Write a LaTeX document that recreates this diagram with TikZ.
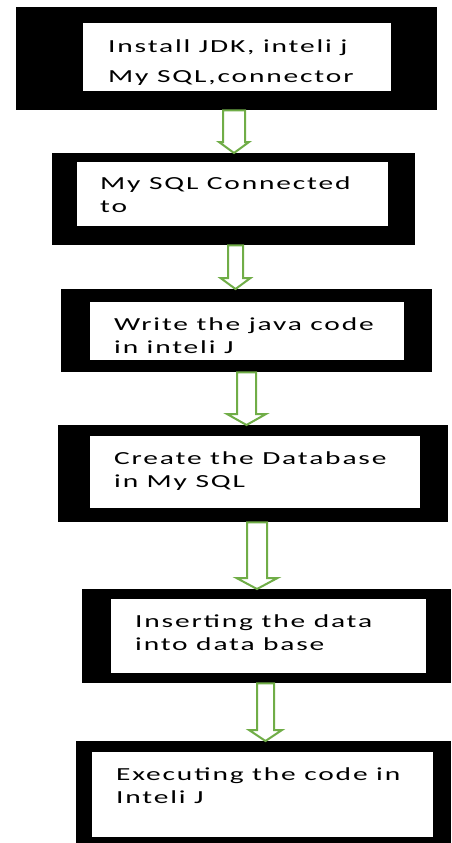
\documentclass[tikz,border=0pt]{standalone}
\usepackage{fontspec}
\newfontfamily\boxfont[FakeStretch=1.6,LetterSpace=10]{Carlito}
\usetikzlibrary{calc}
\definecolor{arrowgreen}{RGB}{112,173,71}

\tikzset{
  outerbox/.style={fill=black, inner sep=0pt, anchor=north west},
  innerbox/.style={fill=white, inner sep=0pt, anchor=north west},
  steptext/.style={anchor=base west, align=left, inner sep=0pt,
    font=\boxfont\fontsize{18.4}{22.5}\selectfont},
  flowarrow/.style={draw=arrowgreen, line width=2pt, fill=white, line join=miter},
}

% hollow block arrow: from, to, x coordinate, shaft half width, head half width
\newcommand{\blockarrow}[5]{%
  \draw[flowarrow] let \p1=(#1.south -| #3), \p2=(#2.north -| #3) in
    (\x1-#4,\y1) -- (\x1-#4,\y2+11pt) -- (\x1-#5,\y2+11pt) -- (\x2,\y2)
    -- (\x1+#5,\y2+11pt) -- (\x1+#4,\y2+11pt) -- (\x1+#4,\y1) -- cycle;
}

\begin{document}
\begin{tikzpicture}[x=1pt, y=-1pt]
  \fill[white] (0,0) rectangle (451,843);
  \useasboundingbox (0,0) rectangle (451,843);

  % text nodes are placed at the baseline of their last line
  \node[outerbox, minimum width=421pt, minimum height=103pt] (b1) at (16,7) {};
  \node[innerbox, minimum width=308pt, minimum height=68pt] (i1) at (83,23) {};
  \node[steptext] (t1) at (108,82) {Install JDK, inteli j\\[7.5pt]My SQL,connector};

  \node[outerbox, minimum width=363pt, minimum height=92pt] (b2) at (52,153) {};
  \node[innerbox, minimum width=311pt, minimum height=64pt] (i2) at (77,162) {};
  \node[steptext] (t2) at (100,212) {My SQL Connected\\to};

  \node[outerbox, minimum width=371pt, minimum height=83pt] (b3) at (61,289) {};
  \node[innerbox, minimum width=314pt, minimum height=58pt] (i3) at (90,302) {};
  \node[steptext] (t3) at (114,353) {Write the java code\\in inteli J};

  \node[outerbox, minimum width=390pt, minimum height=97pt] (b4) at (58,425) {};
  \node[innerbox, minimum width=330pt, minimum height=72pt] (i4) at (90,436) {};
  \node[steptext] (t4) at (114,487) {Create the Database\\in My SQL};

  \node[outerbox, minimum width=369pt, minimum height=94pt] (b5) at (82,589) {};
  \node[innerbox, minimum width=315pt, minimum height=74pt] (i5) at (111,599) {};
  \node[steptext] (t5) at (135,650) {Inserting the data\\into data base};

  \node[outerbox, minimum width=375pt, minimum height=102pt] (b6) at (76,741) {};
  \node[innerbox, minimum width=341pt, minimum height=85pt] (i6) at (92,752) {};
  \node[steptext] (t6) at (116,803) {Executing the code in\\Inteli J};

  \coordinate (a1) at (234,0);
  \coordinate (a2) at (235.5,0);
  \coordinate (a3) at (246.5,0);
  \coordinate (a4) at (257,0);
  \coordinate (a5) at (265.5,0);

  \blockarrow{b1}{b2}{a1}{11pt}{15pt}
  \blockarrow{b2}{b3}{a2}{7.5pt}{15pt}
  \blockarrow{b3}{b4}{a3}{9.5pt}{19.5pt}
  \blockarrow{b4}{b5}{a4}{10pt}{20.5pt}
  \blockarrow{b5}{b6}{a5}{8.5pt}{16.5pt}
\end{tikzpicture}
\end{document}
